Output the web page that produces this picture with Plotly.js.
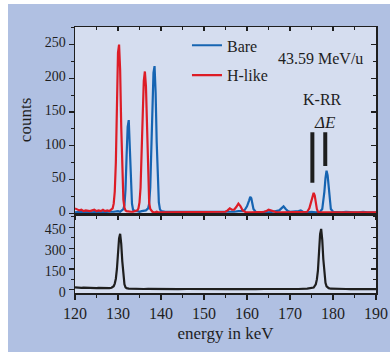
<!DOCTYPE html>
<html>
<head>
<meta charset="utf-8">
<script src="https://cdn.plot.ly/plotly-3.0.1.min.js"></script>
<style>
html,body{margin:0;padding:0;background:#ffffff;}
#chart{position:absolute;left:8px;top:4px;width:382px;height:348px;}
</style>
</head>
<body>
<div id="chart"></div>
<script>
// H-like (red) spectrum
var hLikeEnergy = [120,120.5,121,121.5,122,122.5,123,123.5,124,124.5,
  125,125.5,126,126.5,127,127.5,128,128.5,128.75,129,
  129.25,129.5,129.75,130,130.25,130.5,130.75,131,131.25,131.5,
  131.75,132,132.5,133,133.5,134,134.5,134.75,135,135.25,
  135.5,135.75,136,136.25,136.5,136.75,137,137.25,137.5,138,
  138.5,139,139.5,140,141,142,143,144,145,146,
  147,148,149,150,151,152,153,154,155,155.5,
  156,156.5,157,157.5,158,158.5,159,159.5,160,161,
  162,163,164,164.5,165,165.5,166,166.5,167,168,
  169,170,171,172,173,174,174.5,175,175.25,175.5,
  175.75,176,176.25,176.5,177,178,179,180,181,182,
  183,184,185,186,187,188,189,190];
var hLikeCounts = [7,5,4,5,3,4,3,3,4,5,
  3,4,3,5,3,4,3,5,7,14,
  32,75,155,238,250,212,128,55,20,8,
  4,3,2,2,2,3,4,7,16,38,
  80,145,196,210,188,118,48,15,6,2,
  1,2,1,1,1,2,1,1,2,1,
  1,2,1,1,2,1,1,2,2,4,
  7,5,5,9,14,10,4,2,1,1,
  1,2,2,3,5,4,3,1,1,1,
  1,1,1,1,1,2,7,19,27,30,
  26,15,6,2,1,1,1,1,1,1,
  1,1,1,1,1,1,1,1];

// Bare (blue) spectrum
var bareEnergy = [120,121,122,123,124,125,126,127,128,129,
  129.5,130,130.5,131,131.25,131.5,131.75,132,132.25,132.5,
  132.75,133,133.25,133.5,134,134.5,135,135.5,136,136.5,
  137,137.25,137.5,137.75,138,138.25,138.5,138.75,139,139.25,
  139.5,139.75,140,141,142,143,144,145,146,147,
  148,149,150,151,152,153,154,155,156,157,
  158,159,159.5,160,160.5,160.75,161,161.25,161.5,162,
  163,164,165,166,167,167.5,168,168.5,169,169.5,
  170,171,172,172.5,173,174,175,176,177,177.5,
  177.75,178,178.25,178.5,178.75,179,179.25,179.5,180,181,
  182,183,184,185,186,187,188,189,190];
var bareCounts = [1,2,1,2,1,2,1,2,2,2,
  3,3,2,4,6,12,35,85,128,138,
  95,40,14,5,3,3,2,3,3,4,
  7,14,38,95,165,208,218,178,105,45,
  16,6,3,2,2,1,2,1,2,1,
  2,1,2,1,2,1,2,1,2,2,
  3,3,5,10,19,24,22,14,6,2,
  1,2,1,2,3,4,7,10,6,3,
  2,2,3,4,2,1,2,1,2,6,
  16,32,52,63,56,36,16,6,2,1,
  1,2,1,1,1,2,1,1,1];

// Lower panel (black) spectrum
var lowerEnergy = [120,120.5,121,121.5,122,122.5,123,123.5,124,124.5,
  125,125.5,126,126.5,127,127.5,128,128.5,129,129.25,
  129.5,129.75,130,130.25,130.5,130.75,131,131.25,131.5,131.75,
  132,132.5,133,134,135,136,137,138,139,140,
  142,144,146,148,150,152,154,156,158,160,
  162,164,166,168,170,172,174,175,175.5,176,
  176.25,176.5,176.75,177,177.25,177.5,177.75,178,178.25,178.5,
  179,179.5,180,181,182,183,184,185,186,187,
  188,189,190];
var lowerCounts = [18,15,17,14,16,15,13,16,14,15,
  12,14,13,15,12,13,12,15,26,45,
  80,150,260,370,403,330,205,100,40,18,
  12,9,8,7,8,6,7,6,7,6,
  7,5,6,5,6,5,6,5,6,8,
  5,6,5,6,5,6,8,10,16,40,
  75,140,270,400,438,360,220,110,50,25,
  12,8,7,6,5,6,5,6,5,6,
  5,6,5];

var xTicks = [120,130,140,150,160,170,180,190];
var yTicksTop = [0,50,100,150,200,250];
var yTicksBottom = [0,150,300,450];

// K-RR marker bars (energy, lower count, upper count)
var markerEnergy = [175.2, 178.2];
var markerLow = [45, 70];
var markerHigh = [120, 120];

var serif = '"Liberation Serif", "DejaVu Serif", serif';
var ink = '#1e1e1e';
var red = 'rgb(221,28,38)';
var blue = 'rgb(22,100,178)';

var traces = [
  {x: bareEnergy, y: bareCounts, type: 'scatter', mode: 'lines', name: 'Bare',
   line: {color: blue, width: 2.2}, xaxis: 'x', yaxis: 'y', legend: 'legend'},
  {x: hLikeEnergy, y: hLikeCounts, type: 'scatter', mode: 'lines', name: 'H-like',
   line: {color: red, width: 2.2}, xaxis: 'x', yaxis: 'y', legend: 'legend2'},
  {x: lowerEnergy, y: lowerCounts, type: 'scatter', mode: 'lines', name: 'reference',
   line: {color: ink, width: 2.2}, xaxis: 'x2', yaxis: 'y2', showlegend: false},
  {x: [], y: [], xaxis: 'x3', yaxis: 'y3', showlegend: false, type: 'scatter'},
  {x: [], y: [], xaxis: 'x2', yaxis: 'y4', showlegend: false, type: 'scatter'}
];

var common = {showgrid: false, zeroline: false, showline: true, linecolor: ink, linewidth: 1.5,
  tickcolor: ink, tickwidth: 1.2, tickfont: {family: serif, size: 14, color: ink}};

function ax(extra){ return Object.assign({}, common, extra); }

var shapes = markerEnergy.map(function(e, i){
  return {type: 'line', xref: 'x', yref: 'y', x0: e, x1: e, y0: markerLow[i], y1: markerHigh[i],
          line: {color: ink, width: 4}};
});

var layout = {
  width: 382, height: 348,
  margin: {l: 67, r: 14, t: 23, b: 59},
  paper_bgcolor: 'rgb(176,192,226)',
  plot_bgcolor: 'rgb(213,221,239)',
  font: {family: serif, size: 16, color: ink},
  xaxis: ax({anchor: 'y', range: [120, 190], ticks: 'outside', ticklen: 4, dtick: 10, tick0: 120,
    minor: {dtick: 5, ticks: 'outside', ticklen: 3, tickcolor: ink}, showticklabels: false, mirror: true}),
  xaxis2: ax({anchor: 'y2', range: [120, 190], ticks: 'outside', ticklen: 5, tickvals: xTicks,
    ticktext: xTicks.map(String), tickfont: {family: serif, size: 16, color: ink},
    minor: {dtick: 5, ticks: 'outside', ticklen: 3, tickcolor: ink},
    mirror: true, title: {text: 'energy in keV', font: {family: serif, size: 17, color: ink}, standoff: 6}}),
  xaxis3: ax({overlaying: 'x', anchor: 'y', side: 'top', range: [120, 190], ticks: 'inside', ticklen: 4,
    dtick: 10, tick0: 120, minor: {dtick: 5, ticks: 'inside', ticklen: 3, tickcolor: ink}, showticklabels: false}),
  yaxis: ax({domain: [0.294, 1], anchor: 'x', range: [-2.5, 276], ticks: 'outside', ticklen: 5,
    tickvals: yTicksTop, ticklabelshift: -2,
    minor: {dtick: 25, ticks: 'outside', ticklen: 3, tickcolor: ink}, mirror: true}),
  yaxis3: ax({overlaying: 'y', anchor: 'x', side: 'right', range: [-2.5, 276], ticks: 'inside', ticklen: 5,
    tickvals: yTicksTop, minor: {dtick: 25, ticks: 'inside', ticklen: 3, tickcolor: ink}, showticklabels: false}),
  yaxis2: ax({domain: [0, 0.294], anchor: 'x2', range: [-23, 540], ticks: 'outside', ticklen: 5,
    tickvals: yTicksBottom, ticklabelshift: 2,
    minor: {dtick: 75, ticks: 'outside', ticklen: 3, tickcolor: ink}, mirror: true}),
  yaxis4: ax({overlaying: 'y2', anchor: 'x2', side: 'right', range: [-23, 540], ticks: 'inside', ticklen: 5,
    tickvals: yTicksBottom, minor: {dtick: 75, ticks: 'inside', ticklen: 3, tickcolor: ink}, showticklabels: false}),
  legend: {x: 0.372, xanchor: 'left', y: 0.931, yanchor: 'middle', bgcolor: 'rgba(0,0,0,0)',
    font: {family: serif, size: 16, color: ink}, itemwidth: 30},
  legend2: {x: 0.372, xanchor: 'left', y: 0.819, yanchor: 'middle', bgcolor: 'rgba(0,0,0,0)',
    font: {family: serif, size: 16, color: ink}, itemwidth: 30},
  shapes: shapes,
  annotations: [
    {text: 'counts', xref: 'paper', yref: 'paper', x: -0.166, y: 0.65, xanchor: 'center', yanchor: 'middle',
     textangle: -90, showarrow: false, font: {family: serif, size: 17, color: ink}},
    {text: '43.59 MeV/u', xref: 'x', yref: 'y', x: 177, y: 230, showarrow: false,
     font: {family: serif, size: 16, color: ink}},
    {text: 'K-RR', xref: 'x', yref: 'y', x: 177.5, y: 169, showarrow: false,
     font: {family: serif, size: 16, color: ink}},
    {text: '<i>ΔE</i>', xref: 'x', yref: 'y', x: 178.2, y: 134, showarrow: false,
     font: {family: serif, size: 17, color: ink}}
  ]
};

Plotly.newPlot('chart', traces, layout, {displayModeBar: false, staticPlot: true});
</script>
</body>
</html>
